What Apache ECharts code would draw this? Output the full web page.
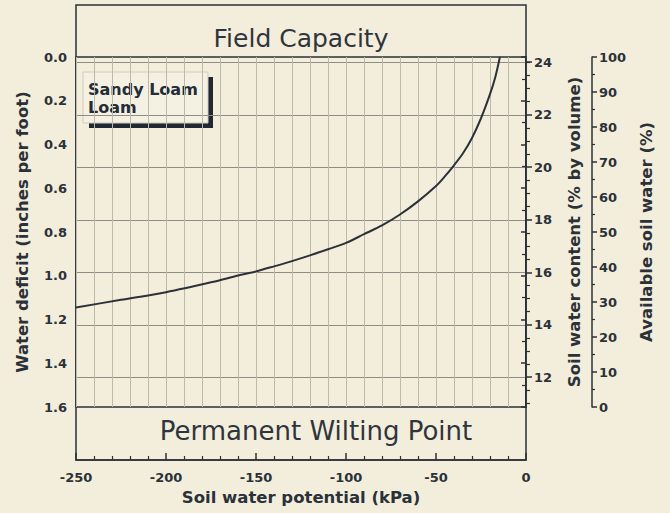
<!DOCTYPE html>
<html><head><meta charset="utf-8">
<script src="https://cdn.jsdelivr.net/npm/echarts@6/dist/echarts.min.js"></script>
<style>html,body{margin:0;padding:0;background:#f3eedb;}#c{width:670px;height:513px;}</style>
</head><body><div id="c"></div>
<script>
// ---- data ----
const soilPotential = [-250, -225, -200, -175, -160, -150, -140, -130, -120, -110, -100, -90, -80, -70, -60, -50, -45, -40, -35, -30, -25, -20, -17, -14.5];
const waterDeficit  = [1.145, 1.11, 1.075, 1.03, 0.999, 0.98, 0.957, 0.933, 0.907, 0.879, 0.85, 0.81, 0.77, 0.72, 0.66, 0.59, 0.545, 0.495, 0.44, 0.37, 0.28, 0.17, 0.09, 0.0];
const potentialTicks = [-250, -200, -150, -100, -50, 0];
const deficitTicks = [0.0, 0.2, 0.4, 0.6, 0.8, 1.0, 1.2, 1.4, 1.6];
const contentTicks = [12, 14, 16, 18, 20, 22, 24];
const contentMinorTicks = [11, 11.5, 12.5, 13, 13.5, 14.5, 15, 15.5, 16.5, 17, 17.5, 18.5, 19, 19.5, 20.5, 21, 21.5, 22.5, 23, 23.5, 24];
const availableTicks = [0, 10, 20, 30, 40, 50, 60, 70, 80, 90, 100];
const fieldCapacity = 24.2;           // % by volume at 0 deficit
const maxDeficit = 1.6;               // inches per foot
const wiltingPoint = fieldCapacity - maxDeficit * 100 / 12;

const INK = '#2b3139';
const GRID_LIGHT = '#bdb9ab';
const GRID_DARK = '#8d8c86';
const FONT = '"DejaVu Sans", "Liberation Sans", Arial, sans-serif';
const lbl = {color: INK, fontFamily: FONT, fontWeight: 'bold', fontSize: 13};
const nameStyle = {color: INK, fontFamily: FONT, fontWeight: 'bold', fontSize: 16.5};

const chart = echarts.init(document.getElementById('c'), null, {renderer: 'svg'});
const L = 76, R = 144;
chart.setOption({
  backgroundColor: '#f3eedb',
  animation: false,
  grid: [
    {left: L, right: R, top: 57, bottom: 106, show: true, borderColor: INK, borderWidth: 1.5, backgroundColor: 'transparent'},
    {left: L, right: R, top: 5, bottom: 53, show: true, borderColor: INK, borderWidth: 1.5, backgroundColor: 'transparent'}
  ],
  xAxis: [
    {gridIndex: 0, type: 'value', min: potentialTicks[0], max: potentialTicks[potentialTicks.length-1], interval: 10,
     axisLine: {show: false}, axisTick: {show: false}, axisLabel: {show: false},
     splitLine: {show: true, lineStyle: {color: GRID_LIGHT, width: 1}}},
    {gridIndex: 1, type: 'value', min: potentialTicks[0], max: potentialTicks[potentialTicks.length-1], interval: 50,
     position: 'bottom',
     axisLine: {show: true, lineStyle: {color: INK, width: 1.5}},
     axisTick: {show: true, inside: true, length: 7, lineStyle: {color: INK, width: 1.5}},
     minorTick: {show: true, splitNumber: 5, length: 4, lineStyle: {color: INK, width: 1.2}},
     axisLabel: Object.assign({margin: 11}, lbl),
     splitLine: {show: false},
     name: 'Soil water potential (kPa)', nameLocation: 'middle', nameGap: 29, nameTextStyle: nameStyle}
  ],
  yAxis: [
    {gridIndex: 0, type: 'value', inverse: true, min: deficitTicks[0], max: deficitTicks[deficitTicks.length-1], interval: 0.2,
     position: 'left',
     axisLine: {show: true, lineStyle: {color: INK, width: 1.5}},
     axisTick: {show: true, length: 5, lineStyle: {color: INK, width: 1.5}},
     minorTick: {show: true, splitNumber: 2, length: 4, lineStyle: {color: INK, width: 1.2}},
     axisLabel: Object.assign({margin: 9, formatter: v => v.toFixed(1)}, lbl),
     splitLine: {show: false},
     name: 'Water deficit (inches per foot)', nameLocation: 'middle', nameGap: 45, nameRotate: 90, nameTextStyle: nameStyle},
    {gridIndex: 0, type: 'value', min: wiltingPoint, max: fieldCapacity, position: 'right',
     axisLine: {show: true, lineStyle: {color: INK, width: 1.5}},
     axisTick: {show: true, length: 6, customValues: contentTicks, lineStyle: {color: INK, width: 1.5}},
     axisLabel: Object.assign({margin: 8, customValues: contentTicks}, lbl),
     splitLine: {show: true, lineStyle: {color: GRID_DARK, width: 1}},
     name: 'Soil water content (% by volume)', nameLocation: 'middle', nameGap: 40, nameRotate: 90, nameTextStyle: nameStyle},
    {gridIndex: 0, type: 'value', min: wiltingPoint, max: fieldCapacity, position: 'right',
     axisLine: {show: false},
     axisTick: {show: true, length: 4, customValues: contentMinorTicks, lineStyle: {color: INK, width: 1.2}},
     axisLabel: {show: false}, splitLine: {show: false}},
    {gridIndex: 0, type: 'value', min: availableTicks[0], max: availableTicks[availableTicks.length-1], interval: 10,
     position: 'right', offset: 66,
     axisLine: {show: true, lineStyle: {color: INK, width: 1.5}},
     axisTick: {show: true, length: 5, lineStyle: {color: INK, width: 1.5}},
     minorTick: {show: true, splitNumber: 2, length: 3, lineStyle: {color: INK, width: 1.2}},
     axisLabel: Object.assign({margin: 7}, lbl),
     splitLine: {show: false},
     name: 'Available soil water (%)', nameLocation: 'middle', nameGap: 46, nameRotate: 90, nameTextStyle: nameStyle},
    {gridIndex: 1, type: 'value', min: 0, max: 1, show: false}
  ],
  graphic: [
    {type: 'text', x: 301, y: 38, style: {text: 'Field Capacity', fill: '#30353d', font: '25px ' + FONT, textAlign: 'center', textVerticalAlign: 'middle'}},
    {type: 'text', x: 316, y: 431, style: {text: 'Permanent Wilting Point', fill: '#30353d', font: '26px ' + FONT, textAlign: 'center', textVerticalAlign: 'middle'}},
    {type: 'rect', shape: {x: 89, y: 77, width: 124, height: 51}, style: {fill: '#1f2833'}},
    {type: 'rect', shape: {x: 83, y: 72, width: 125, height: 51}, style: {fill: '#f5f1e2', stroke: '#cfcabb', lineWidth: 1}},
    {type: 'text', x: 88, y: 80, style: {text: 'Sandy Loam\nLoam', fill: '#242c38', font: 'bold 16px ' + FONT, lineHeight: 18}}
  ],
  series: [{
    type: 'line', xAxisIndex: 0, yAxisIndex: 0,
    data: soilPotential.map((x, i) => [x, waterDeficit[i]]),
    smooth: 0.3, showSymbol: false, symbol: 'none',
    lineStyle: {color: INK, width: 2}
  }]
});
</script></body></html>
